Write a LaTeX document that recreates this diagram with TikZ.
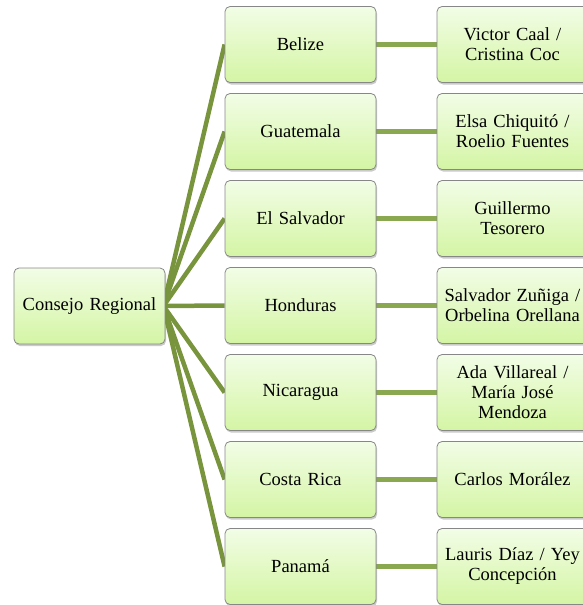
\documentclass[tikz,border=0pt]{standalone}
\usepackage{fontspec}
\setmainfont{Liberation Serif}
\usetikzlibrary{shadows,backgrounds}
\definecolor{boxtop}{RGB}{242,253,230}
\definecolor{boxbot}{RGB}{212,245,164}
\definecolor{boxline}{RGB}{135,135,135}
\definecolor{fanline}{RGB}{120,148,60}
\definecolor{hline}{RGB}{138,168,80}
\tikzset{
  box/.style={rectangle, rounded corners=5pt, draw=boxline, line width=0.8pt,
    top color=boxtop, bottom color=boxbot, minimum width=151pt, minimum height=76pt,
    text width=148pt, align=center, inner sep=0pt,
    font=\fontsize{18.5}{20}\selectfont,
    drop shadow={shadow xshift=1pt, shadow yshift=-2pt, opacity=0.35, fill=black!60}},
  fan/.style={draw=fanline, line width=4.5pt},
  link/.style={draw=hline, line width=5pt}
}
\begin{document}
\begin{tikzpicture}[x=1pt,y=-1pt]
\useasboundingbox (0,0) rectangle (583,605);
\clip (0,0) rectangle (583,605);
\node[box] (root) at (89.5,306) {Consejo Regional};
\foreach \i/\a/\b in {0/Belize/{Victor Caal /\\Cristina Coc},
  1/Guatemala/{Elsa Chiquitó /\\Roelio Fuentes},
  2/El Salvador/{Guillermo\\Tesorero},
  3/Honduras/{Salvador Zuñiga /\\Orbelina Orellana},
  4/Nicaragua/{Ada Villareal /\\María José\\Mendoza},
  5/Costa Rica/{Carlos Morález},
  6/Panamá/{Lauris Díaz / Yey\\Concepción}}{
  \node[box] (m\i) at (300.5,{44.5+87*\i}) {\a};
  \node[box] (r\i) at (512.5,{44.5+87*\i}) {\b};
  \begin{scope}[on background layer]
    \path[fan] ([xshift=-2pt]root.east) -- (m\i.west);
    \path[link] (m\i.east) -- (r\i.west);
  \end{scope}
}
\end{tikzpicture}
\end{document}
